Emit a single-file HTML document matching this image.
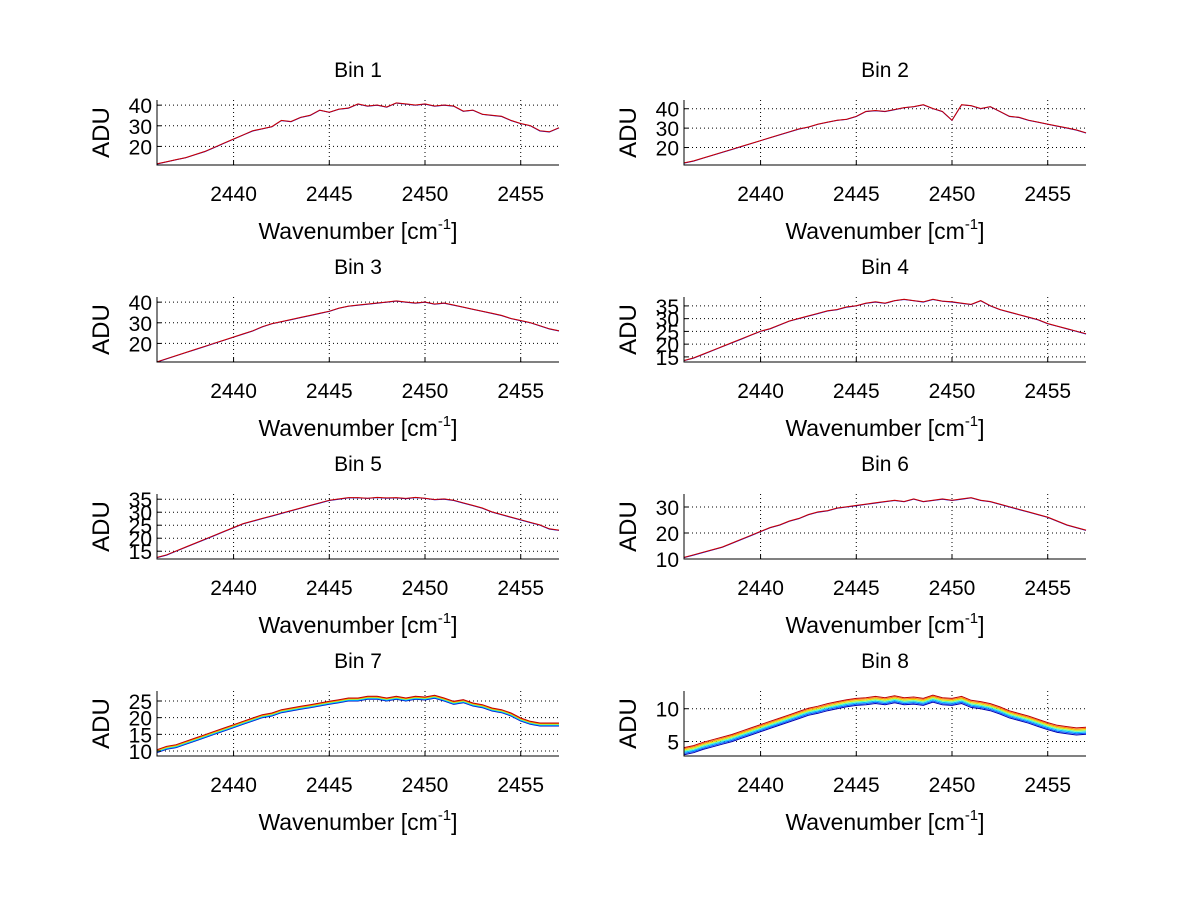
<!DOCTYPE html>
<html><head><meta charset="utf-8"><style>
html,body{margin:0;padding:0;background:#fff;}
svg{display:block;font-family:"Liberation Sans",sans-serif;}
</style></head><body>
<svg id="chart" width="1200" height="901" viewBox="0 0 1200 901" xmlns="http://www.w3.org/2000/svg"></svg>
<script>
const xTicks = [2440, 2445, 2450, 2455];
const xMin = 2436, xMax = 2457;
const binTitles = ["Bin 1","Bin 2","Bin 3","Bin 4","Bin 5","Bin 6","Bin 7","Bin 8"];
const yLims = [[11,42.5],[11,44.5],[11,42.5],[13,38.5],[12,37],[10,35],[8.5,28],[2.8,12.7]];
const yTicks = [[20,30,40],[20,30,40],[20,30,40],[15,20,25,30,35],[15,20,25,30,35],[10,20,30],[10,15,20,25],[5,10]];
const bin1 = [11.5,12.5,13.5,14.5,16,17.5,19.5,21.5,23.5,25.5,27.5,28.5,29.5,32.5,32,34,35,37.5,36.5,38,38.5,40.5,39.5,40,39,41,40.5,40,40.5,39.5,40,39.5,37,37.5,35.5,35,34.5,32.5,31,30,27.5,27,29];
const bin2 = [12,13,14.5,16,17.5,19,20.5,22,23.5,25,26.5,28,29.5,30.5,32,33,34,34.5,36,38.5,39,38.5,39.5,40.5,41,42,40,38.5,34,42,41.5,40,41,38.5,36,35.5,34,33,32,31,30,29,27.5];
const bin3 = [11,12.5,14,15.5,17,18.5,20,21.5,23,24.5,26,28,29.5,30.5,31.5,32.5,33.5,34.5,35.5,37,38,38.5,39,39.5,40,40.5,40,39.5,40,39,39.5,38.5,37.5,36.5,35.5,34.5,33.5,32,31,30,28.5,27,26];
const bin4 = [13.5,14.5,16,17.5,19,20.5,22,23.5,25,26,27.5,29,30,31,32,33,33.5,34.5,35,36,36.5,36,37,37.5,37,36.5,37.5,36.8,36.5,36,35.5,37,35,33.5,32.5,31.5,30.5,29.5,28,27,26,25,24];
const bin5 = [12.5,13.5,15,16.5,18,19.5,21,22.5,24,25.5,26.5,27.5,28.5,29.5,30.5,31.5,32.5,33.5,34.5,35,35.5,35.5,35.3,35.6,35.4,35.5,35.2,35.6,35.3,34.8,35,34.5,33.5,32.5,31.5,30,29,28,27,26,25,23.5,23];
const bin6 = [10.5,11.5,12.5,13.5,14.5,16,17.5,19,20.5,22,23,24.5,25.5,27,28,28.5,29.5,30,30.5,31,31.5,32,32.5,32,33,32,32.5,33,32.5,33,33.5,32.5,32,31,30,29,28,27,26,24.5,23,22,21];
const bin7 = [9.5,10.5,11,12,13,14,15,16,17,18,19,20,20.5,21.5,22,22.5,23,23.5,24,24.5,25,25,25.5,25.5,25,25.5,25,25.5,25.3,25.8,25,24,24.5,23.5,23,22,21.5,20.5,19,18,17.5,17.5,17.5];
const bin8 = [3,3.3,3.8,4.2,4.6,5,5.5,6,6.5,7,7.5,8,8.5,9,9.3,9.7,10,10.3,10.5,10.6,10.8,10.6,10.9,10.6,10.7,10.5,11,10.6,10.5,10.8,10.2,10,9.7,9.2,8.6,8.2,7.8,7.3,6.8,6.4,6.2,6,6.1];
const binData = [bin1,bin2,bin3,bin4,bin5,bin6,bin7,bin8];
const seriesOffsets = [[0,0.1],[0,0.1],[0,0.1],[0,0.1],[0,0.1],[0,0.1],[0,0.15,0.3,0.45,0.6,0.75,0.9],[0,0.18,0.36,0.54,0.72,0.9,1.08]];
const seriesColors2 = ["#0000cc","#cc0000"];
const seriesColors7 = ["#0000b0","#0060ff","#00c0ff","#60ffa0","#e0e000","#ff8000","#c00000"];

const NS="http://www.w3.org/2000/svg";
const svg=document.getElementById('chart');
function mk(tag,attrs,parent){const e=document.createElementNS(NS,tag);for(const k in attrs)e.setAttribute(k,attrs[k]);(parent||svg).appendChild(e);return e;}
const colX=[157,684], W=402, rowY=[100,297,494,691], H=65;

for(let b=0;b<8;b++){
  const left=colX[b%2], top=rowY[Math.floor(b/2)];
  const [y0,y1]=yLims[b];
  const sx=v=>left+(v-xMin)/(xMax-xMin)*W;
  const sy=v=>top+H-(v-y0)/(y1-y0)*H;
  const g=mk('g',{});
  
  
  xTicks.forEach(t=>{const l=mk('line',{x1:sx(t),x2:sx(t),y1:top,y2:top+H,stroke:'#000','stroke-width':1,'stroke-dasharray':'1,3'},g);
    });
  yTicks[b].forEach(t=>{const l=mk('line',{x1:left,x2:left+W,y1:sy(t),y2:sy(t),stroke:'#000','stroke-width':1,'stroke-dasharray':'1,3'},g);
    });
  const offs=seriesOffsets[b];
  const cols=offs.length===2?seriesColors2:seriesColors7;
  offs.forEach((o,si)=>{
    const d=binData[b].map((v,i)=>{const x=xMin+i*(xMax-xMin)/(binData[b].length-1);return (i?'L':'M')+sx(x).toFixed(1)+','+sy(v+o).toFixed(1);}).join('');
    const p=mk('path',{d:d,fill:'none',stroke:cols[si],'stroke-width':1},g);
    
    
  });
  const ax=mk('path',{d:`M${left},${top}V${top+H}H${left+W}`,fill:'none',stroke:'#000','stroke-width':1},g);
  
  xTicks.forEach(t=>{
    mk('line',{x1:sx(t),x2:sx(t),y1:top+H,y2:top+H-4,stroke:'#000'},g);
    const tx=mk('text',{x:sx(t),y:top+H+36,'font-size':21,'text-anchor':'middle'},g);tx.textContent=t;
    
  });
  yTicks[b].forEach(t=>{
    mk('line',{x1:left,x2:left+4,y1:sy(t),y2:sy(t),stroke:'#000'},g);
    const tx=mk('text',{x:left-5,y:sy(t)+8,'font-size':21,'text-anchor':'end'},g);tx.textContent=t;
    
  });
  const ti=mk('text',{x:left+W/2,y:top-23,'font-size':21,'text-anchor':'middle'},g);ti.textContent=binTitles[b];
  
  const xl=mk('text',{x:left+W/2,y:top+H+74,'font-size':23,'text-anchor':'middle'},g);
  xl.innerHTML='Wavenumber [cm<tspan dy="-10" font-size="15">-1</tspan><tspan dy="10">]</tspan>';
  
  const yl=mk('text',{x:0,y:0,'font-size':24,'text-anchor':'middle',transform:`translate(${left-48},${top+H/2}) rotate(-90)`},g);yl.textContent='ADU';
  
}
</script>
</body></html>
